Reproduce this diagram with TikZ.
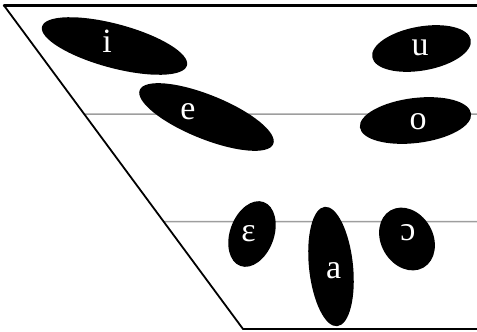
\documentclass[tikz,border=0pt]{standalone}
\usepackage{fontspec}
\setmainfont{Liberation Serif}
\usetikzlibrary{shapes.geometric,calc}

\begin{document}
\begin{tikzpicture}[x=1pt, y=-1pt,
  blob/.style={ellipse, fill=black, inner sep=0pt, outer sep=0pt},
  ipa/.style={text=white, font=\fontsize{34}{38}\selectfont, anchor=base, inner sep=0pt},
  frame/.style={line width=1.8pt, line cap=round},
  level/.style={line width=1.5pt, black!38}]
\useasboundingbox (0,0) rectangle (477,332);

% trapezoid
\coordinate (tl) at (4,5.5);
\coordinate (tr) at (477,5.5);
\coordinate (bl) at (243,329);
\coordinate (br) at (477,329);
\coordinate (m1) at ($(tl)!0.3354!(bl)$);
\coordinate (m2) at ($(tl)!0.6677!(bl)$);
\coordinate (r1) at (477,114);
\coordinate (r2) at (477,221.5);

\draw[level] (m1) -- (r1);
\draw[level] (m2) -- (r2);
\draw[frame, line width=2.4pt] (tl) -- (tr);
\draw[frame] (tl) -- (bl) -- (br);

% vowel areas
\node[blob, minimum width=150pt, minimum height=44pt, rotate=-15] (bi) at (114.5,46) {};
\node[blob, minimum width=144pt, minimum height=44pt, rotate=-22] (be) at (206.5,117) {};
\node[blob, minimum width=100pt, minimum height=44pt, rotate=10] (bu) at (421.5,48.5) {};
\node[blob, minimum width=112pt, minimum height=45pt, rotate=7] (bo) at (415.5,120.5) {};
\node[blob, minimum width=68pt, minimum height=44pt, rotate=70] (beps) at (252,234) {};
\node[blob, minimum width=120pt, minimum height=44pt, rotate=96] (ba) at (331,266.5) {};
\node[blob, minimum width=66pt, minimum height=52pt, rotate=120] (bopen) at (407,239) {};

% symbols
\node[ipa] (i) at (107,52.7) {i};
\node[ipa] (e) at (188,119.3) {e};
\node[ipa] (u) at (420,56) {u};
\node[ipa] (o) at (418,129.3) {o};
\node[ipa] (eps) at (248.5,241) {ɛ};
\node[ipa] (a) at (333.7,278) {a};
\node[ipa] (open) at (408,240.7) {ɔ};
\end{tikzpicture}
\end{document}
